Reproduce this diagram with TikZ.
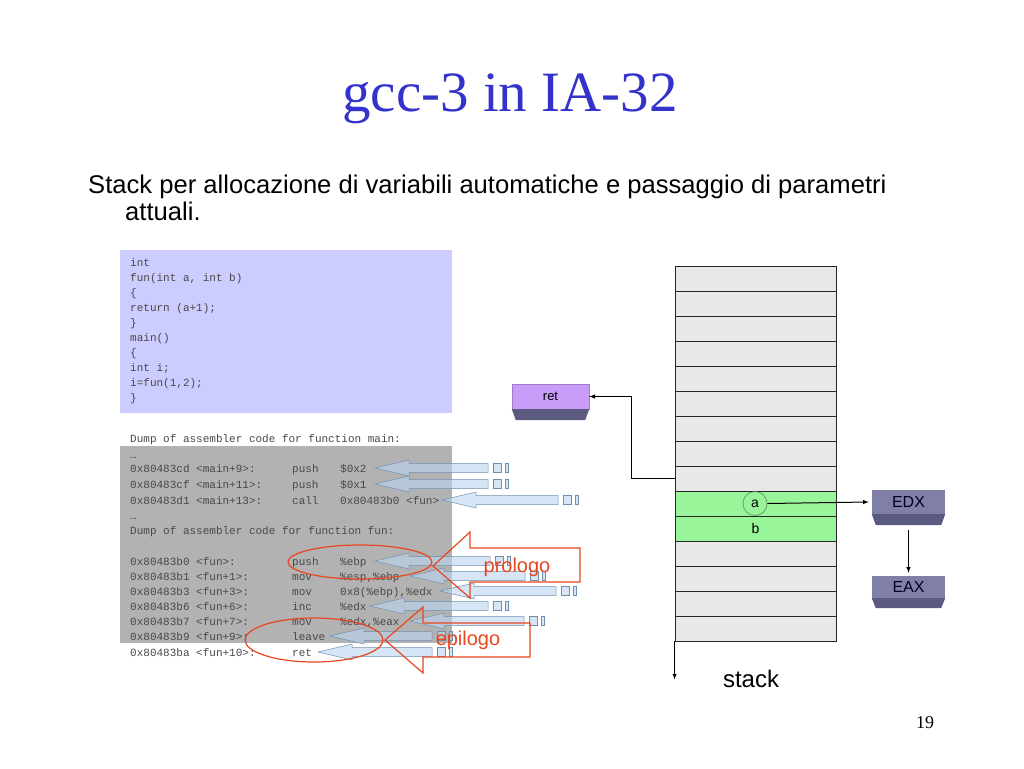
\documentclass[tikz,border=0pt]{standalone}
\usepackage{fontspec}
\setmainfont{Liberation Sans}
\newfontfamily\titlefont{Liberation Serif}
\newfontfamily\codefont{Liberation Mono}
\usetikzlibrary{positioning}

\definecolor{titleblue}{HTML}{3333CC}
\definecolor{lavender}{HTML}{CCCCFF}
\definecolor{dumpgray}{HTML}{B2B2B2}
\definecolor{codegray}{HTML}{484848}
\definecolor{cellgray}{HTML}{E8E8E8}
\definecolor{cellgreen}{HTML}{99F599}
\definecolor{agreen}{HTML}{5A8A5A}
\definecolor{regface}{HTML}{7F7FA8}
\definecolor{regside}{HTML}{5A5A80}
\definecolor{retface}{HTML}{C89CF8}
\definecolor{arrowblue}{HTML}{BCD6F0}
\definecolor{arrowline}{HTML}{6F8FB0}
\definecolor{callred}{HTML}{E8461E}

% address / mnemonic / operand columns
\newcommand{\asmcols}[3]{\makebox[162pt][l]{#1}\makebox[48pt][l]{#2}#3}
% striped block arrow: tip x, y, end of body
\newcommand{\blockarrow}[3]{%
  \draw[barrow] (#1,#2) -- (#1+34,#2-8) -- (#1+34,#2-4.5) -- (#3,#2-4.5) -- (#3,#2+4.5) -- (#1+34,#2+4.5) -- (#1+34,#2+8) -- cycle;
  \draw[barrow] (#3+5,#2-4.5) rectangle ++(8,9);
  \draw[barrow] (#3+17,#2-4.5) rectangle ++(3.5,9);}

\begin{document}
\begin{tikzpicture}[x=1pt, y=-1pt,
  cell/.style={rectangle, draw=black!85, fill=cellgray, minimum width=161pt, minimum height=25pt, inner sep=0pt, line width=0.8pt, font=\fontsize{14}{14}\selectfont},
  reg/.style={rectangle, fill=regface, minimum width=73pt, inner sep=0pt, text=black!85!blue, font=\fontsize{16}{16}\selectfont},
  retbox/.style={rectangle, fill=retface, draw=retface!80!black, line width=0.4pt, minimum width=77pt, minimum height=25pt, inner sep=0pt, font=\fontsize{13}{13}\selectfont},
  n/.style={-latex, line width=1pt},
  barrow/.style={draw=arrowline, line width=0.5pt, fill=arrowblue, fill opacity=0.6},
  callout/.style={draw=callred, line width=1.2pt},
  asm/.style={anchor=base west, inner sep=0pt, text=codegray, font=\codefont\fontsize{11}{11}\selectfont},
  src/.style={anchor=north west, align=left, inner sep=0pt, text=codegray, font=\codefont\fontsize{11}{15}\selectfont}]
\useasboundingbox (0,0) rectangle (1024,768);

% title and text
\node[anchor=base, inner sep=0pt, font=\titlefont\fontsize{57}{57}\selectfont, text=titleblue] (title) at (510,111) {gcc-3 in IA-32};
\node[anchor=base west, inner sep=0pt, font=\fontsize{25.6}{25.6}\selectfont] (line1) at (88,193) {Stack per allocazione di variabili automatiche e passaggio di parametri};
\node[anchor=base west, inner sep=0pt, font=\fontsize{25.6}{25.6}\selectfont] (line2) at (125,220) {attuali.};
\node[anchor=base, font=\titlefont\fontsize{18}{18}\selectfont] (pg) at (925,728) {19};

% source code
\node[fill=lavender, anchor=north west, minimum width=332pt, minimum height=163pt, inner sep=0pt] (cbox) at (120,250) {};
\node[src] (csrc) at (130,258) {int\\fun(int a, int b)\\\{\\return (a+1);\\\}\\main()\\\{\\int i;\\i=fun(1,2);\\\}};

% assembler dump
\node[fill=dumpgray, anchor=north west, minimum width=332pt, minimum height=197pt, inner sep=0pt] (dbox) at (120,446) {};
\node[asm] (d1) at (130,442) {Dump of assembler code for function main:};
\node[asm] (d2) at (130,458) {…};
\node[asm] (d3) at (130,472) {\asmcols{0x80483cd <main+9>:}{push}{\$0x2}};
\node[asm] (d4) at (130,488) {\asmcols{0x80483cf <main+11>:}{push}{\$0x1}};
\node[asm] (d5) at (130,504) {\asmcols{0x80483d1 <main+13>:}{call}{0x80483b0 <fun>}};
\node[asm] (d6) at (130,519) {…};
\node[asm] (d7) at (130,534) {Dump of assembler code for function fun:};
\node[asm] (d8) at (130,565) {\asmcols{0x80483b0 <fun>:}{push}{\%ebp}};
\node[asm] (d9) at (130,580) {\asmcols{0x80483b1 <fun+1>:}{mov}{\%esp,\%ebp}};
\node[asm] (d10) at (130,595) {\asmcols{0x80483b3 <fun+3>:}{mov}{0x8(\%ebp),\%edx}};
\node[asm] (d11) at (130,610) {\asmcols{0x80483b6 <fun+6>:}{inc}{\%edx}};
\node[asm] (d12) at (130,625) {\asmcols{0x80483b7 <fun+7>:}{mov}{\%edx,\%eax}};
\node[asm] (d13) at (130,640) {\asmcols{0x80483b9 <fun+9>:}{leave}{}};
\node[asm] (d14) at (130,656) {\asmcols{0x80483ba <fun+10>:}{ret}{}};

% block arrows
\blockarrow{375}{468}{488}
\blockarrow{375}{484}{488}
\blockarrow{442}{500}{558}
\blockarrow{375}{561}{490}
\blockarrow{410}{576}{525}
\blockarrow{440}{591}{556}
\blockarrow{370}{606}{488}
\blockarrow{410}{621}{524}
\blockarrow{330}{636}{432}
\blockarrow{318}{652}{432}

% prologo / epilogo
\draw[callout] (360,562) ellipse [x radius=72pt, y radius=17pt];
\draw[callout] (314,640) ellipse [x radius=69pt, y radius=22pt];
\draw[callout] (433,566) -- (470,532) -- (470,548) -- (580,548) -- (580,582) -- (470,582) -- (470,598) -- cycle;
\draw[callout] (385,640) -- (423,607) -- (423,623) -- (530,623) -- (530,657) -- (423,657) -- (423,673) -- cycle;
\node[text=callred, font=\fontsize{20}{20}\selectfont] (pro) at (517,567) {prologo};
\node[text=callred, font=\fontsize{20}{20}\selectfont] (epi) at (468,640) {epilogo};

% stack
\foreach \i in {1,2,3,4,5,6,7,8,9,12,13,14,15}
  \node[cell] (s\i) at (755.5,253.5+25*\i) {};
\node[cell, fill=cellgreen] (s10) at (755.5,503.5) {};
\node[cell, fill=cellgreen] (s11) at (755.5,528.5) {b};
\node[circle, draw=agreen, line width=0.6pt, minimum size=24pt, inner sep=0pt, font=\fontsize{14}{14}\selectfont] (a) at (755,503.5) {a};
\draw[-latex, line width=0.8pt] (s15.south west) -- ++(0,38);
\node[font=\fontsize{24}{24}\selectfont] (stk) at (751,679) {stack};

% registers
\node[retbox] (ret) at (550.5,396.5) {ret};
\fill[regside] (ret.south west) -- (ret.south east) -- ([shift={(-4pt,-11pt)}]ret.south east) -- ([shift={(4pt,-11pt)}]ret.south west) -- cycle;
\node[reg, minimum height=24pt] (edx) at (908.5,502) {EDX};
\fill[regside] (edx.south west) -- (edx.south east) -- ([shift={(-4pt,-11pt)}]edx.south east) -- ([shift={(4pt,-11pt)}]edx.south west) -- cycle;
\node[reg, minimum height=22pt] (eax) at (908.5,587) {EAX};
\fill[regside] (eax.south west) -- (eax.south east) -- ([shift={(-4pt,-10pt)}]eax.south east) -- ([shift={(4pt,-10pt)}]eax.south west) -- cycle;

% edges
\draw[n] (s9.west) -- ++(-43,0) |- (ret.east);
\draw[n] (a.east) -- ([xshift=-3pt]edx.west);
\draw[n] ([yshift=-16pt]edx.south) -- ([yshift=3pt]eax.north);
\end{tikzpicture}
\end{document}
